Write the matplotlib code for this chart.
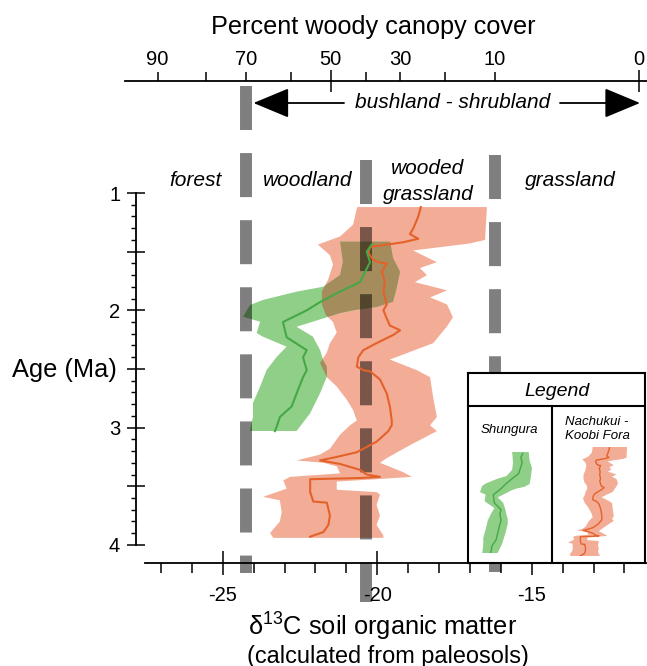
import numpy as np
import matplotlib
matplotlib.use('Agg')
import matplotlib.pyplot as plt

plt.rcParams['font.family'] = ['Liberation Sans', 'DejaVu Sans']
plt.rcParams['mathtext.fontset'] = 'custom'
plt.rcParams['mathtext.rm'] = 'Liberation Sans'
plt.rcParams['mathtext.default'] = 'regular'
plt.rcParams['lines.scale_dashes'] = False

# percent woody canopy cover -> d13C position on the top scale
cover_pct = [90, 80, 70, 60, 50, 40, 30, 20, 10, 0]
cover_d13c = [-27.11, -25.53, -24.23, -22.78, -21.51, -20.37, -19.26, -17.79, -16.20, -11.53]
cover_labels = ['90', '', '70', '', '50', '', '30', '', '10', '0']
boundary_pct = [70, 40, 10]

# Shungura (green)
shu_age = [1.44, 1.50, 1.59, 1.67, 1.76, 1.84, 1.93, 2.00, 2.10, 2.23, 2.34, 2.40,
           2.51, 2.57, 2.71, 2.82, 2.91, 2.99, 3.03]
shu_d13c = [-20.18, -20.34, -20.23, -20.39, -20.56, -21.20, -21.85, -22.28, -23.05,
            -22.93, -22.28, -22.40, -22.28, -22.40, -22.61, -22.77, -23.15, -23.25, -23.31]
shu_lo_age = [1.415, 1.586, 1.699, 1.799, 1.841, 1.912, 1.955, 2.055, 2.097, 2.194,
              2.225, 2.310, 2.396, 2.509, 2.651, 2.790, 2.907, 3.029]
shu_lo = [-21.20, -21.11, -21.20, -21.75, -22.61, -23.70, -24.12, -24.34, -23.79, -23.90,
          -23.70, -22.93, -23.25, -23.58, -23.79, -24.02, -24.02, -24.12]
shu_hi_age = [1.415, 1.554, 1.671, 1.810, 1.927, 1.972, 1.997, 2.023, 2.097, 2.140,
              2.225, 2.338, 2.424, 2.481, 2.566, 2.707, 2.878, 3.029]
shu_hi = [-19.58, -19.49, -19.26, -19.37, -19.49, -20.02, -20.72, -21.20, -22.08, -22.61,
          -22.08, -21.85, -21.75, -21.63, -21.63, -21.85, -22.17, -22.61]

# Nachukui - Koobi Fora (orange)
nkf_age = [1.12, 1.20, 1.30, 1.35, 1.39, 1.42, 1.46, 1.51, 1.57, 1.59, 1.60, 1.67, 1.76,
           1.84, 1.95, 2.00, 2.07, 2.13, 2.17, 2.21, 2.28, 2.34, 2.40, 2.48, 2.51, 2.52,
           2.59, 2.71, 2.82, 2.94, 2.98, 3.03, 3.12, 3.21, 3.25, 3.28, 3.31, 3.36, 3.40,
           3.42, 3.43, 3.44, 3.55, 3.63, 3.64, 3.75, 3.83, 3.89, 3.93]
nkf_d13c = [-18.59, -18.67, -18.83, -18.94, -18.67, -19.16, -20.23, -20.29, -20.13, -19.96,
            -19.69, -19.85, -19.75, -19.80, -19.69, -19.80, -19.69, -19.59, -19.26, -19.48,
            -20.02, -20.45, -20.61, -20.66, -20.45, -20.23, -19.91, -19.69, -19.59, -19.53,
            -19.53, -19.64, -20.02, -20.66, -21.31, -21.85, -21.20, -20.56, -20.34, -19.91,
            -20.56, -22.17, -22.17, -22.07, -21.63, -21.53, -21.58, -21.74, -22.17]
nkf_lo_age = [1.12, 1.27, 1.37, 1.44, 1.53, 1.61, 1.74, 1.84, 1.95, 2.04, 2.10, 2.19, 2.28,
              2.36, 2.45, 2.57, 2.65, 2.76, 2.85, 2.94, 2.98, 3.06, 3.18, 3.23, 3.28, 3.30,
              3.33, 3.39, 3.42, 3.45, 3.52, 3.59, 3.62, 3.72, 3.80, 3.90, 3.94]
nkf_lo = [-20.65, -20.78, -21.20, -21.92, -21.53, -21.43, -21.59, -21.79, -21.79, -21.66,
          -21.43, -21.31, -21.53, -21.63, -21.85, -21.63, -21.31, -20.99, -20.78, -20.66,
          -20.88, -21.20, -21.53, -21.85, -22.61, -21.74, -21.31, -21.20, -22.82, -23.04,
          -22.93, -23.69, -23.15, -23.09, -23.15, -23.47, -23.36]
nkf_hi_age = [1.12, 1.40, 1.43, 1.49, 1.59, 1.64, 1.70, 1.76, 1.83, 1.89, 1.95, 2.06, 2.14,
              2.28, 2.42, 2.51, 2.57, 2.74, 2.91, 2.98, 3.03, 3.15, 3.26, 3.30, 3.38, 3.42,
              3.44, 3.46, 3.53, 3.55, 3.57, 3.66, 3.75, 3.83, 3.92, 3.94]
nkf_hi = [-16.45, -16.51, -17.00, -18.84, -18.07, -18.62, -18.39, -18.78, -17.74, -18.29,
          -17.74, -17.55, -17.75, -18.19, -19.59, -18.72, -18.29, -18.19, -18.07, -18.29,
          -18.07, -18.94, -19.69, -19.91, -19.16, -18.88, -20.02, -21.31, -21.31, -20.02,
          -19.91, -20.02, -19.91, -20.02, -19.80, -19.80]

green_band = '#8fcf87'
green_line = '#45a845'
orange_band = '#f3ac96'
orange_line = '#e4622a'
overlap = '#a58c5c'

W, H = 647, 666


def fx(px):
    return px / W


def fy(py):
    return 1 - py / H


def draw_series(a, clip_lw=1.5):
    o = a.fill(nkf_lo + nkf_hi[::-1], nkf_lo_age + nkf_hi_age[::-1],
               color=orange_band, lw=0, zorder=1)[0]
    a.fill(shu_lo + shu_hi[::-1], shu_lo_age + shu_hi_age[::-1],
           color=green_band, lw=0, zorder=2)
    b = a.fill(shu_lo + shu_hi[::-1], shu_lo_age + shu_hi_age[::-1],
               color=overlap, lw=0, zorder=3)[0]
    b.set_clip_path(o)
    a.plot(nkf_d13c, nkf_age, color=orange_line, lw=clip_lw, zorder=6)
    a.plot(shu_d13c, shu_age, color=green_line, lw=clip_lw, zorder=6)


fig = plt.figure(figsize=(6.47, 6.66), dpi=100)
ax = fig.add_axes([0, 0, 1, 1])
ax.set_xlim(-32.207, -11.269)
ax.set_ylim(5.0324, -0.6454)
ax.patch.set_visible(False)

draw_series(ax)

# vegetation boundaries (dashed grey bars)
bound_x = [cover_d13c[cover_pct.index(p)] for p in boundary_pct]
bar_span = [(0.088, 4.24), (0.72, 4.487), (0.676, 4.231)]
for bx, (y0, y1) in zip(bound_x, bar_span):
    ax.plot([bx, bx], [y0, y1], color='black', alpha=0.5, lw=8.6,
            dashes=(31.7, 16.6), solid_capstyle='butt', dash_capstyle='butt', zorder=4)

# left and bottom axes
for s in ['top', 'right']:
    ax.spines[s].set_visible(False)
ax.spines['left'].set_position(('data', -27.81))
ax.spines['left'].set_bounds(1, 4)
ax.spines['bottom'].set_position(('data', 4.154))
ax.spines['bottom'].set_bounds(-27.51, -11.27)
for s in ['left', 'bottom']:
    ax.spines[s].set_linewidth(1.3)

ax.set_yticks([1, 1.5, 2, 2.5, 3, 3.5, 4], ['1', '', '2', '', '3', '', '4'])
ax.set_yticks(np.arange(1, 4.01, 0.1), minor=True)
ax.tick_params(axis='y', which='major', direction='inout', length=13.5, width=1.1,
               labelsize=14.5, pad=4.5)
ax.tick_params(axis='y', which='minor', direction='out', length=3.5, width=1.0)

ax.set_xticks([-25, -20, -15], ['-25', '-20', '-15'])
ax.set_xticks(np.arange(-27, -11.5, 1.0), minor=True)
ax.tick_params(axis='x', which='major', direction='inout', length=17, width=1.1,
               labelsize=14.5, pad=8)
ax.tick_params(axis='x', which='minor', direction='out', length=7, width=1.1)

# top axis: percent woody canopy cover
ax2 = ax.twiny()
ax2.set_xlim(ax.get_xlim())
ax2.patch.set_visible(False)
for s in ['bottom', 'left', 'right']:
    ax2.spines[s].set_visible(False)
ax2.spines['top'].set_position(('data', 0.043))
ax2.spines['top'].set_bounds(-28.16, -11.27)
ax2.spines['top'].set_linewidth(1.3)
long_pct = [50, 0]
maj = [d for p, d in zip(cover_pct, cover_d13c) if p not in long_pct]
maj_lab = [l for p, l in zip(cover_pct, cover_labels) if p not in long_pct]
mnr = [d for p, d in zip(cover_pct, cover_d13c) if p in long_pct]
mnr_lab = [l for p, l in zip(cover_pct, cover_labels) if p in long_pct]
ax2.set_xticks(maj, maj_lab)
ax2.set_xticks(mnr, mnr_lab, minor=True)
ax2.tick_params(axis='x', which='major', direction='out', length=6.3, width=1.1,
                labelsize=14.5, pad=2.5)
ax2.tick_params(axis='x', which='minor', direction='inout', length=16, width=1.1,
                labelsize=14.5, pad=0.5)

# arrow for bushland - shrubland
ax.annotate('', xy=(fx(253.5), fy(103)), xytext=(fx(344), fy(103)),
            xycoords='figure fraction', textcoords='figure fraction',
            arrowprops=dict(arrowstyle='-|>,head_length=1.13,head_width=0.47',
                            mutation_scale=20, color='black', lw=1.3,
                            shrinkA=0, shrinkB=0), annotation_clip=False)
ax.annotate('', xy=(fx(640), fy(103)), xytext=(fx(560), fy(103)),
            xycoords='figure fraction', textcoords='figure fraction',
            arrowprops=dict(arrowstyle='-|>,head_length=1.13,head_width=0.47',
                            mutation_scale=20, color='black', lw=1.3,
                            shrinkA=0, shrinkB=0), annotation_clip=False)
fig.text(fx(453), fy(103), 'bushland - shrubland', fontsize=15, style='italic',
         ha='center', va='center')

# labels
fig.text(fx(373), fy(27), 'Percent woody canopy cover', fontsize=18.2,
         ha='center', va='center')
fig.text(fx(64), fy(370), 'Age (Ma)', fontsize=18.3, ha='center', va='center')
fig.text(fx(383), fy(627), 'δ$^{13}$C soil organic matter', fontsize=18.3,
         ha='center', va='center')
fig.text(fx(388), fy(656), '(calculated from paleosols)', fontsize=16.9,
         ha='center', va='center')

zone_text = [('forest', 195, 181), ('woodland', 307.5, 181), ('wooded', 428, 168),
             ('grassland', 428, 194), ('grassland', 570, 181)]
for t, px, py in zone_text:
    fig.text(fx(px), fy(py), t, fontsize=15, style='italic', ha='center', va='center')

# legend box
lax = fig.add_axes([fx(468), fy(563), (645 - 468) / W, (563 - 372.7) / H], zorder=2)
lax.set_xticks([])
lax.set_yticks([])
for s in lax.spines.values():
    s.set_linewidth(1.5)
lax.axhline((563 - 406) / (563 - 372.7), color='black', lw=1.5)
lax.plot([(552 - 468) / 177, (552 - 468) / 177], [0, (563 - 406) / (563 - 372.7)],
         color='black', lw=1.5)
lax.set_xlim(0, 1)
lax.set_ylim(0, 1)
fig.text(fx(556.7), fy(391.7), 'Legend', fontsize=14, style='italic',
         ha='center', va='center', zorder=5)
fig.text(fx(509), fy(430), 'Shungura', fontsize=9.5, style='italic',
         ha='center', va='center', zorder=5)
fig.text(fx(597), fy(422), 'Nachukui -', fontsize=9.5, style='italic',
         ha='center', va='center', zorder=5)
fig.text(fx(597), fy(436), 'Koobi Fora', fontsize=9.5, style='italic',
         ha='center', va='center', zorder=5)

# mini versions of each record inside the legend
gax = fig.add_axes([fx(480), fy(553), 52 / W, 101 / H], zorder=3)
gax.fill(shu_lo + shu_hi[::-1], shu_lo_age + shu_hi_age[::-1], color=green_band, lw=0)
gax.plot(shu_d13c, shu_age, color=green_line, lw=1)
gax.set_xlim(min(shu_lo), max(shu_hi))
gax.set_ylim(max(shu_lo_age), min(shu_lo_age))
gax.axis('off')

oax = fig.add_axes([fx(568), fy(556), 59 / W, 109 / H], zorder=3)
oax.fill(nkf_lo + nkf_hi[::-1], nkf_lo_age + nkf_hi_age[::-1], color=orange_band, lw=0)
oax.plot(nkf_d13c, nkf_age, color=orange_line, lw=1)
oax.set_xlim(min(nkf_lo), max(nkf_hi))
oax.set_ylim(max(nkf_lo_age), min(nkf_lo_age))
oax.axis('off')

fig.savefig('out.png', dpi=100)
